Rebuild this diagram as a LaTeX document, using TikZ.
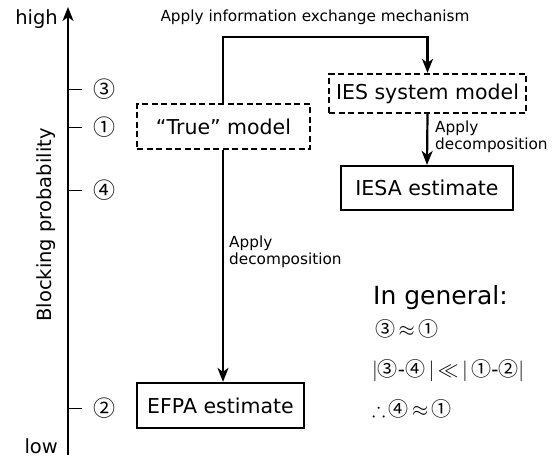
\documentclass[tikz,border=0pt]{standalone}
\usepackage{amssymb}
\usepackage{fontspec}
\setmainfont{DejaVu Sans}
\newfontfamily\fcirc{Noto Sans CJK JP}
\usetikzlibrary{arrows.meta}
\newcommand{\cn}[1]{{\fcirc #1}}
\tikzset{
  dbox/.style={draw, line width=2.2pt, dash pattern=on 6pt off 3.5pt, inner sep=0pt, font=\fontsize{20.5}{24}\selectfont},
  sbox/.style={draw, line width=2.2pt, inner sep=0pt, font=\fontsize{20.5}{24}\selectfont},
  conn/.style={line width=2.2pt, -{Stealth[length=14pt,width=11pt,inset=4pt]}},
  lbl/.style={font=\fontsize{15.3}{17}\selectfont, inner sep=0pt},
  big/.style={font=\fontsize{19.5}{22}\selectfont, inner sep=0pt},
  cnum/.style={font=\fcirc\fontsize{22}{24}\selectfont, inner sep=0pt},
  tick/.style={line width=0.9pt},
  fml/.style={font=\fontsize{20}{22}\selectfont, inner sep=0pt, anchor=west}
}
\begin{document}
\begin{tikzpicture}[x=1pt,y=-1pt]
\useasboundingbox (0,0) rectangle (557,458);
% axis
\coordinate (ab) at (68,455);
\coordinate (at) at (68,7);
\draw[line width=2.2pt, -{Stealth[length=14pt,width=11pt,inset=4pt]}] (ab) -- (at);
\node[big, anchor=east] (high) at (58,19) {high};
\node[big, anchor=east] (low) at (58,446) {low};
\node[big, rotate=90] (bp) at (46,225) {Blocking probability};
% ticks
\foreach \n/\yy/\s in {t3/89/③, t1/127/①, t4/190/④, t2/408/②}{
  \coordinate (\n a) at (68,\yy);
  \coordinate (\n b) at (82,\yy);
  \draw[tick] (\n a) -- (\n b);
  \node[cnum] (\n l) at (104,\yy) {\s};
}
% boxes
\node[dbox, minimum width=173pt, minimum height=45pt] (true) at (223.5,126.5) {“True” model};
\node[dbox, minimum width=197pt, minimum height=39pt] (ies) at (427.5,93.5) {IES system model};
\node[sbox, minimum width=172pt, minimum height=44pt] (iesa) at (427,188) {IESA estimate};
\node[sbox, minimum width=167pt, minimum height=45pt] (efpa) at (220.5,405.5) {EFPA estimate};
% connectors
\coordinate (tl) at (223,37);
\draw[conn] (true.north -| tl) -- (tl) -| (ies.north);
\node[lbl] (iem) at (315,17) {Apply information exchange mechanism};
\draw[conn] (true.south -| tl) -- (efpa.north -| tl);
\node[lbl, anchor=north west, align=left] (d1) at (229,236) {Apply\\decomposition};
\draw[conn] (ies.south) -- (iesa.north);
\node[lbl, anchor=north west, align=left] (d2) at (435,121) {Apply\\decomposition};
% in general
\node[font=\fontsize{25}{28}\selectfont, inner sep=0pt, anchor=west] (ig) at (373,298) {In general:};
\node[fml] (f1) at (375,329) {\cn{③}\,${\approx}$\,\cn{①}};
\node[fml] (f2) at (372,371) {$|$\cn{③}-\cn{④}$\,|\,{\ll}\,|\,$\cn{①}-\cn{②}$|$};
\node[fml] (f3) at (372,409) {${\therefore}$\,\cn{④}\,${\approx}$\,\cn{①}};
\end{tikzpicture}
\end{document}
